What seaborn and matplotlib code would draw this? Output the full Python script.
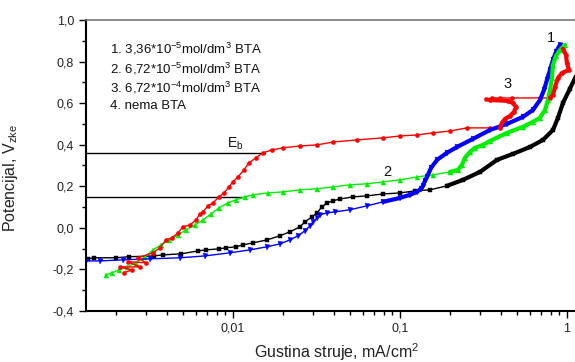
import matplotlib
matplotlib.use("Agg")
import matplotlib.pyplot as plt
import seaborn as sns
import pandas as pd
from matplotlib.ticker import FixedLocator, LogLocator, NullFormatter, FixedFormatter, MultipleLocator

# ---------------- data ----------------
# curve 1: 3,36e-5 mol/dm3 BTA (blue)
c1_x = [0.001318, 0.001599, 0.002195, 0.003184, 0.004817, 0.006798, 0.009595, 0.01264, 0.01599,
        0.01911, 0.02194, 0.02451, 0.02699, 0.02891, 0.03013, 0.03184, 0.03319, 0.03655, 0.04081,
        0.05020, 0.06345, 0.07910, 0.1, 0.1148, 0.1264, 0.1336, 0.1373, 0.1411, 0.1451, 0.1534,
        0.1666, 0.1911, 0.2194, 0.2735, 0.3459, 0.4373, 0.5453, 0.6253, 0.6890, 0.7282, 0.7590,
        0.7910, 0.8245, 0.8590, 0.9079]
c1_y = [-0.159, -0.159, -0.154, -0.149, -0.144, -0.135, -0.120, -0.106, -0.091, -0.077, -0.058,
        -0.038, -0.014, 0.010, 0.029, 0.048, 0.063, 0.072, 0.077, 0.087, 0.106, 0.125, 0.144, 0.159,
        0.173, 0.188, 0.202, 0.226, 0.245, 0.288, 0.327, 0.361, 0.389, 0.428, 0.471, 0.500, 0.534,
        0.567, 0.615, 0.663, 0.712, 0.760, 0.808, 0.846, 0.880]

# curve 2: 6,72e-5 mol/dm3 BTA (green)
c2_x = [0.001738, 0.001885, 0.002076, 0.002319, 0.002625, 0.002972, 0.003319, 0.003707, 0.004138,
        0.004686, 0.005233, 0.005921, 0.006612, 0.007387, 0.008241, 0.009333, 0.01042, 0.01180,
        0.01318, 0.01620, 0.01993, 0.02519, 0.03184, 0.03970, 0.05020, 0.06345, 0.07910, 0.1,
        0.1264, 0.1577, 0.1992, 0.2225, 0.2352, 0.2451, 0.2625, 0.2813, 0.3141, 0.3459, 0.4373,
        0.5453, 0.6253, 0.6890, 0.7387, 0.7696, 0.7910, 0.8128, 0.8245, 0.8590, 0.9079, 0.9729]
c2_y = [-0.226, -0.216, -0.202, -0.188, -0.168, -0.139, -0.106, -0.082, -0.058, -0.034, -0.010,
        0.014, 0.038, 0.067, 0.096, 0.120, 0.135, 0.149, 0.159, 0.168, 0.173, 0.183, 0.188, 0.197,
        0.207, 0.212, 0.221, 0.231, 0.245, 0.255, 0.269, 0.279, 0.303, 0.337, 0.365, 0.385, 0.399,
        0.418, 0.457, 0.486, 0.510, 0.529, 0.567, 0.615, 0.663, 0.721, 0.784, 0.827, 0.856, 0.880]

# curve 3: 6,72e-4 mol/dm3 BTA (red)
c3_x = [0.002224, 0.002484, 0.002105, 0.002774, 0.002351, 0.003013, 0.002699, 0.003319, 0.003656,
        0.003970, 0.004313, 0.004686, 0.005021, 0.005532, 0.006002, 0.006343, 0.006612, 0.007087,
        0.007590, 0.008241, 0.008831, 0.009463, 0.01, 0.01071, 0.01164, 0.01247, 0.01374, 0.01512,
        0.01713, 0.01993, 0.02519, 0.03184, 0.03970, 0.05530, 0.07910, 0.1, 0.1264, 0.1577, 0.1992,
        0.2520, 0.3459, 0.3970, 0.4081, 0.4253, 0.4558, 0.4818, 0.4951, 0.4752, 0.4433,
        0.3459, 0.3273, 0.3556, 0.3970, 0.4686, 0.7910, 0.8245, 0.8472, 0.8831, 0.9333, 1.028,
        1.0, 0.9863, 0.9462]
c3_y = [-0.216, -0.202, -0.188, -0.188, -0.163, -0.168, -0.144, -0.120, -0.096, -0.058, -0.048,
        -0.024, 0.005, 0.014, 0.038, 0.067, 0.077, 0.106, 0.120, 0.149, 0.168, 0.197, 0.221, 0.245,
        0.279, 0.313, 0.337, 0.361, 0.375, 0.385, 0.394, 0.399, 0.413, 0.423, 0.433, 0.442, 0.447,
        0.457, 0.466, 0.481, 0.481, 0.481, 0.505, 0.524, 0.538, 0.558, 0.582, 0.601, 0.611,
        0.615, 0.620, 0.625, 0.625, 0.625, 0.625, 0.639, 0.678, 0.721, 0.745, 0.760,
        0.793, 0.832, 0.861]

# curve 4: no BTA (black)
c4_x = [0.001355, 0.001472, 0.001992, 0.002384, 0.003365, 0.003810, 0.004886, 0.006173, 0.006897,
        0.008241, 0.009080, 0.01042, 0.01148, 0.01318, 0.01599, 0.01911, 0.02194, 0.02519, 0.02699,
        0.02972, 0.03184, 0.03411, 0.03655, 0.03970, 0.04373, 0.05233, 0.06345, 0.07910, 0.1,
        0.1230, 0.1512, 0.1911, 0.2384, 0.3013, 0.3811, 0.4752, 0.6002, 0.7180, 0.8245, 0.8831,
        0.9462, 1.042, 1.164]
c4_y = [-0.149, -0.144, -0.144, -0.139, -0.135, -0.130, -0.125, -0.111, -0.106, -0.101, -0.096,
        -0.091, -0.082, -0.072, -0.058, -0.038, -0.019, 0.005, 0.029, 0.053, 0.072, 0.101, 0.120,
        0.130, 0.139, 0.149, 0.154, 0.163, 0.168, 0.178, 0.183, 0.202, 0.231, 0.269, 0.327, 0.356,
        0.389, 0.423, 0.471, 0.529, 0.601, 0.670, 0.750]

legend_lines = ["1. 3,36*10$^{\\mathrm{-5}}$mol/dm$^{\\mathrm{3}}$ BTA",
                "2. 6,72*10$^{\\mathrm{-5}}$mol/dm$^{\\mathrm{3}}$ BTA",
                "3. 6,72*10$^{\\mathrm{-4}}$mol/dm$^{\\mathrm{3}}$ BTA",
                "4. nema BTA"]
curve_labels = ["1", "2", "3"]

# breakdown-potential guide lines
eb_levels = [0.36, 0.15]
eb_ends = [0.01556, 0.01148]

y_ticks = [-0.4, -0.2, 0.0, 0.2, 0.4, 0.6, 0.8, 1.0]
y_ticklabels = ["-0,4", "-0,2", "0,0", "0,2", "0,4", "0,6", "0,8", "1,0"]
x_ticks = [0.01, 0.1, 1]
x_ticklabels = ["0,01", "0,1", "1"]

# ---------------- style ----------------
sns.set_style("ticks")
plt.rcParams["font.family"] = ["Liberation Sans", "DejaVu Sans"]
plt.rcParams["mathtext.fontset"] = "custom"
plt.rcParams["mathtext.rm"] = "Liberation Sans"
plt.rcParams["mathtext.it"] = "Liberation Sans:italic"
plt.rcParams["mathtext.bf"] = "Liberation Sans:bold"
plt.rcParams["axes.unicode_minus"] = False

fig = plt.figure(figsize=(5.75, 3.62), dpi=100)
ax = fig.add_axes([86 / 575, 51 / 362, 1 - 86 / 575, (311 - 20) / 362])
ax.set_xscale("log")

series = [
    (c4_x, c4_y, "black", "s", 3.0),
    (c2_x, c2_y, "#00ee00", "^", 3.6),
    (c1_x, c1_y, "#0000ff", "v", 3.6),
    (c3_x, c3_y, "#ff0000", "o", 3.0),
]
for xs, ys, col, mk, ms in series:
    df = pd.DataFrame({"x": xs, "y": ys})
    sns.lineplot(data=df, x="x", y="y", sort=False, estimator=None, color=col,
                 marker=mk, markersize=ms, markeredgewidth=0.3, markeredgecolor=col,
                 linewidth=1.0, ax=ax, legend=False)

# dense (thick-looking) parts of the measured curves
def thick(xs, ys, i0, i1, col):
    df = pd.DataFrame({"x": xs[i0:i1], "y": ys[i0:i1]})
    sns.lineplot(data=df, x="x", y="y", sort=False, estimator=None, color=col,
                 linewidth=3.0, ax=ax, legend=False, solid_capstyle="round", solid_joinstyle="round")

thick(c1_x, c1_y, 21, len(c1_x), "#0000ff")
thick(c2_x, c2_y, 30, len(c2_x), "#00ee00")
thick(c4_x, c4_y, 31, len(c4_x), "black")
thick(c3_x, c3_y, 41, 50, "#ff0000")
thick(c3_x, c3_y, 54, len(c3_x), "#ff0000")

for lev, end in zip(eb_levels, eb_ends):
    ax.plot([0.001, end], [lev, lev], color="black", linewidth=1.0, zorder=1)

ax.set_xlim(0.001318, 1.117)
ax.set_ylim(-0.4, 1.0)

ax.xaxis.set_major_locator(FixedLocator(x_ticks))
ax.xaxis.set_major_formatter(FixedFormatter(x_ticklabels))
ax.xaxis.set_minor_locator(LogLocator(base=10, subs=range(2, 10), numticks=20))
ax.xaxis.set_minor_formatter(NullFormatter())
ax.yaxis.set_major_locator(FixedLocator(y_ticks))
ax.yaxis.set_major_formatter(FixedFormatter(y_ticklabels))
ax.yaxis.set_minor_locator(MultipleLocator(0.1))

ax.tick_params(which="major", direction="out", length=5, width=1.0, labelsize=9, color="black",
               labelcolor="#222222")
ax.tick_params(which="minor", direction="out", length=3, width=1.0, color="black")
for s in ["left", "bottom"]:
    ax.spines[s].set_linewidth(1.5)
    ax.spines[s].set_color("black")
ax.spines["top"].set_color("#777777")
ax.spines["top"].set_linewidth(1.2)
ax.spines["right"].set_visible(False)

ax.set_xlabel("Gustina struje, mA/cm$^{\\mathrm{2}}$", fontsize=11.5, color="#222222")
ax.set_ylabel("Potencijal, V$_{\\mathrm{zke}}$", fontsize=11.5, color="#222222")
ax.xaxis.set_label_coords(0.513, -0.105)
ax.yaxis.set_label_coords(-0.134, 0.457)

for txt, yy in zip(legend_lines, [0.885, 0.817, 0.752, 0.695]):
    ax.text(0.049, yy, txt, transform=ax.transAxes, fontsize=9.5, va="baseline", ha="left",
            color="#111111")

ax.text(0.00921, 0.385, "E$_{\\mathrm{b}}$", fontsize=10, ha="left", va="baseline", color="#111111")
for lbl, (lx, ly) in zip(curve_labels, [(0.80, 0.913), (0.0836, 0.269), (0.443, 0.692)]):
    ax.text(lx, ly, lbl, fontsize=10.5, ha="center", va="center", color="#111111")

fig.savefig("out.png", dpi=100)
